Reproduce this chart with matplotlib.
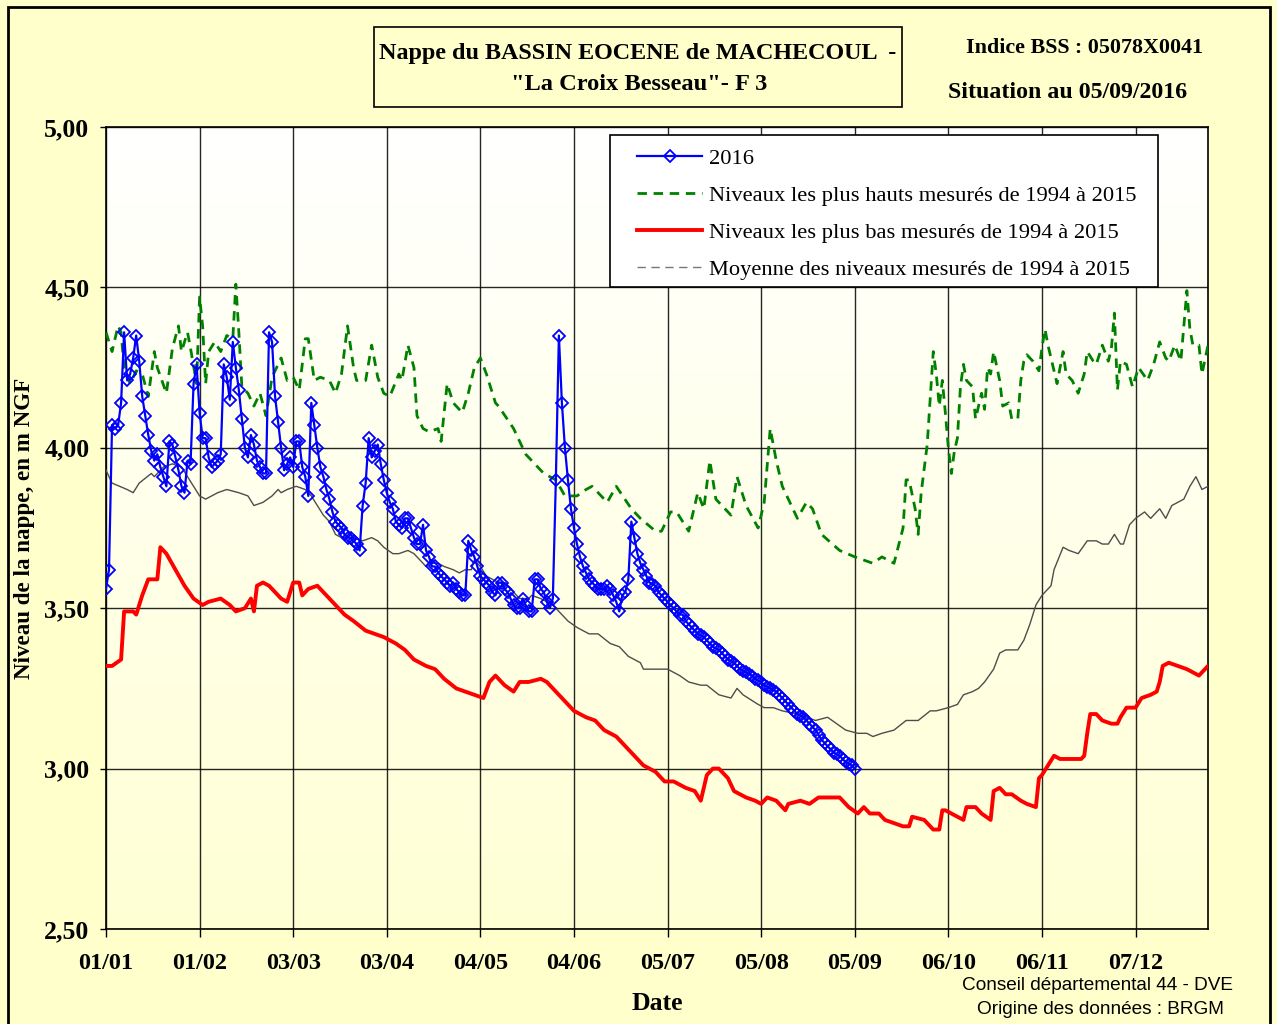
import matplotlib
matplotlib.use("Agg")
import matplotlib.pyplot as plt
import numpy as np
from matplotlib.lines import Line2D
from matplotlib.patches import Rectangle
from matplotlib.colors import LinearSegmentedColormap

# ---------------- data ----------------
tick_days = [0, 31, 62, 93, 124, 155, 186, 217, 248, 279, 310, 341]
tick_labels = ["01/01", "01/02", "03/03", "03/04", "04/05", "04/06",
               "05/07", "05/08", "05/09", "06/10", "06/11", "07/12"]
y_ticks = [2.5, 3.0, 3.5, 4.0, 4.5, 5.0]
y_tick_labels = ["2,50", "3,00", "3,50", "4,00", "4,50", "5,00"]

# 2016 daily levels (from 01/01, one value per day)
levels_2016 = [
    3.56, 3.62, 4.07, 4.06, 4.07, 4.14, 4.36, 4.21, 4.23, 4.28,
    4.35, 4.27, 4.16, 4.10, 4.04, 3.99, 3.96, 3.98, 3.94, 3.91,
    3.88, 4.02, 4.01, 3.97, 3.93, 3.88, 3.86, 3.96, 3.95, 4.20,
    4.26, 4.11, 4.03, 4.03, 3.97, 3.94, 3.95, 3.96, 3.98, 4.26,
    4.22, 4.15, 4.33, 4.25, 4.18, 4.09, 4.00, 3.97, 4.04, 4.01,
    3.96, 3.94, 3.92, 3.92, 4.36, 4.33, 4.16, 4.08, 4.00, 3.93,
    3.95, 3.97, 3.94, 4.02, 4.02, 3.94, 3.91, 3.85, 4.14, 4.07,
    4.00, 3.94, 3.91, 3.87, 3.84, 3.80, 3.77, 3.76, 3.75, 3.73,
    3.72, 3.72, 3.71, 3.70, 3.68, 3.82, 3.89, 4.03, 3.97, 3.99,
    4.01, 3.95, 3.90, 3.86, 3.83, 3.81, 3.77, 3.76, 3.75, 3.78,
    3.78, 3.75, 3.72, 3.70, 3.70, 3.76, 3.68, 3.66, 3.63, 3.63,
    3.61, 3.60, 3.59, 3.58, 3.57, 3.58, 3.56, 3.55, 3.54, 3.54,
    3.71, 3.68, 3.66, 3.63, 3.60, 3.59, 3.58, 3.57, 3.55, 3.54,
    3.58, 3.58, 3.56, 3.55, 3.53, 3.51, 3.50, 3.50, 3.53, 3.51,
    3.49, 3.49, 3.59, 3.59, 3.56, 3.55, 3.52, 3.50, 3.53, 3.90,
    4.35, 4.14, 4.00, 3.90, 3.81, 3.75, 3.70, 3.66, 3.63, 3.61,
    3.59, 3.58, 3.57, 3.56, 3.56, 3.56, 3.57, 3.56, 3.54, 3.52,
    3.49, 3.54, 3.55, 3.59, 3.77, 3.72, 3.67, 3.64, 3.62, 3.60,
    3.58, 3.575, 3.57, 3.55, 3.54, 3.53, 3.52, 3.51, 3.50, 3.49,
    3.48, 3.48, 3.46, 3.45, 3.44, 3.43, 3.42, 3.415, 3.41, 3.40,
    3.39, 3.38, 3.375, 3.37, 3.36, 3.35, 3.34, 3.335, 3.33, 3.32,
    3.31, 3.305, 3.30, 3.295, 3.29, 3.28, 3.275, 3.27, 3.26, 3.255,
    3.25, 3.245, 3.24, 3.23, 3.22, 3.21, 3.20, 3.19, 3.18, 3.17,
    3.165, 3.16, 3.15, 3.14, 3.13, 3.12, 3.105, 3.09, 3.08, 3.07,
    3.06, 3.05, 3.045, 3.04, 3.03, 3.02, 3.015, 3.01, 3.00,
]

# highest levels 1994-2015
max_days = [0, 2, 4, 5, 6, 8, 10, 12, 14, 16, 17, 20, 22, 24, 25, 27, 28, 30, 31, 32,
            33, 34, 36, 38, 40, 42, 43, 44, 45, 47, 49, 51, 53, 55, 58, 60, 62, 64, 66, 67,
            69, 71, 74, 76, 78, 80, 82, 83, 86, 88, 90, 92, 94, 97, 98, 100, 102, 103, 105, 107,
            110, 111, 113, 115, 118, 120, 122, 124, 126, 129, 130, 135, 139, 145, 149, 152, 156, 159, 161, 166,
            169, 174, 177, 182, 184, 187, 189, 193, 196, 198, 200, 202, 207, 209, 212, 216, 218, 220, 222, 224,
            227, 229, 232, 234, 237, 243, 248, 254, 257, 261, 264, 265, 266, 268, 269, 270, 272, 274, 275, 276,
            277, 278, 279, 280, 281, 282, 283, 284, 285, 287, 288, 290, 291, 292, 293, 294, 296, 297, 299, 300,
            302, 303, 304, 305, 307, 309, 310, 311, 312, 314, 315, 317, 318, 320, 322, 324, 325, 327, 328, 330,
            332, 333, 334, 335, 336, 338, 340, 342, 345, 347, 349, 351, 352, 354, 356, 358, 359, 360, 362, 363, 365]
max_vals = [4.36, 4.30, 4.38, 4.36, 4.25, 4.20, 4.24, 4.23, 4.16, 4.30, 4.25, 4.17, 4.31, 4.38, 4.30, 4.36, 4.31, 4.20, 4.47, 4.38,
            4.20, 4.30, 4.33, 4.30, 4.35, 4.34, 4.51, 4.36, 4.19, 4.17, 4.13, 4.17, 4.10, 4.22, 4.28, 4.21, 4.22, 4.18, 4.34, 4.34,
            4.21, 4.22, 4.21, 4.17, 4.23, 4.38, 4.25, 4.21, 4.21, 4.32, 4.22, 4.17, 4.16, 4.23, 4.21, 4.32, 4.25, 4.10, 4.06, 4.05,
            4.06, 4.02, 4.20, 4.14, 4.11, 4.17, 4.25, 4.28, 4.23, 4.14, 4.13, 4.06, 3.98, 3.92, 3.90, 3.85, 3.85, 3.87, 3.88, 3.83,
            3.88, 3.81, 3.78, 3.74, 3.74, 3.80, 3.80, 3.74, 3.86, 3.81, 3.96, 3.84, 3.79, 3.91, 3.82, 3.75, 3.83, 4.06, 3.96, 3.88,
            3.82, 3.78, 3.83, 3.81, 3.73, 3.68, 3.66, 3.64, 3.66, 3.64, 3.75, 3.90, 3.90, 3.81, 3.73, 3.86, 4.01, 4.30, 4.23, 4.13,
            4.21, 4.11, 4.00, 3.92, 3.99, 4.03, 4.19, 4.26, 4.21, 4.19, 4.09, 4.17, 4.12, 4.25, 4.23, 4.30, 4.21, 4.13, 4.14, 4.09,
            4.09, 4.21, 4.27, 4.29, 4.27, 4.24, 4.31, 4.37, 4.32, 4.24, 4.20, 4.30, 4.23, 4.21, 4.17, 4.23, 4.30, 4.27, 4.26, 4.32,
            4.27, 4.31, 4.42, 4.18, 4.27, 4.26, 4.19, 4.25, 4.21, 4.26, 4.33, 4.28, 4.27, 4.32, 4.27, 4.49, 4.37, 4.32, 4.32, 4.23, 4.32]

# lowest levels 1994-2015
min_days = [0, 2, 5, 6, 9, 10, 12, 14, 17, 18, 20, 23, 26, 29, 32, 34, 38, 41, 43, 46,
            48, 49, 50, 52, 54, 56, 58, 60, 62, 64, 65, 67, 70, 73, 76, 79, 82, 86, 89, 92,
            96, 99, 102, 106, 109, 112, 116, 119, 122, 125, 127, 129, 132, 135, 137, 140, 144, 146, 149, 152,
            155, 159, 162, 165, 169, 172, 175, 178, 182, 185, 188, 192, 195, 197, 199, 201, 203, 206, 208, 212,
            215, 217, 219, 222, 225, 226, 230, 233, 236, 240, 243, 246, 249, 251, 253, 256, 258, 261, 264, 266,
            267, 271, 274, 276, 277, 278, 282, 284, 285, 288, 290, 293, 294, 296, 298, 300, 303, 305, 308, 309,
            310, 312, 314, 316, 320, 323, 324, 325, 326, 328, 330, 333, 335, 336, 338, 341, 343, 346, 348, 349,
            350, 352, 355, 358, 360, 362, 364, 365]
min_vals = [3.32, 3.32, 3.34, 3.49, 3.49, 3.48, 3.54, 3.59, 3.59, 3.69, 3.67, 3.62, 3.57, 3.53, 3.51, 3.52, 3.53, 3.51, 3.49, 3.50,
            3.53, 3.49, 3.57, 3.58, 3.57, 3.55, 3.53, 3.52, 3.58, 3.58, 3.54, 3.56, 3.57, 3.54, 3.51, 3.48, 3.46, 3.43, 3.42, 3.41,
            3.39, 3.37, 3.34, 3.32, 3.31, 3.28, 3.25, 3.24, 3.23, 3.22, 3.27, 3.29, 3.26, 3.24, 3.27, 3.27, 3.28, 3.27, 3.24, 3.21,
            3.18, 3.16, 3.15, 3.12, 3.10, 3.07, 3.04, 3.01, 2.99, 2.96, 2.96, 2.94, 2.93, 2.90, 2.98, 3.00, 3.00, 2.97, 2.93, 2.91,
            2.90, 2.89, 2.91, 2.90, 2.87, 2.89, 2.90, 2.89, 2.91, 2.91, 2.91, 2.88, 2.86, 2.88, 2.86, 2.86, 2.84, 2.83, 2.82, 2.82,
            2.85, 2.84, 2.81, 2.81, 2.87, 2.87, 2.85, 2.84, 2.88, 2.88, 2.86, 2.84, 2.93, 2.94, 2.92, 2.92, 2.90, 2.89, 2.88, 2.97,
            2.98, 3.01, 3.04, 3.03, 3.03, 3.03, 3.04, 3.11, 3.17, 3.17, 3.15, 3.14, 3.14, 3.16, 3.19, 3.19, 3.22, 3.23, 3.24, 3.27,
            3.32, 3.33, 3.32, 3.31, 3.30, 3.29, 3.31, 3.32]

# mean levels 1994-2015
mean_days = [0, 2, 7, 9, 11, 15, 16, 19, 22, 25, 27, 29, 31, 33, 37, 40, 44, 47, 49, 52,
             55, 57, 58, 60, 63, 66, 68, 70, 72, 74, 76, 78, 82, 85, 88, 90, 92, 95, 97, 100,
             102, 103, 106, 107, 110, 112, 115, 117, 119, 121, 122, 124, 126, 128, 130, 133, 135, 137, 140, 141,
             144, 146, 148, 150, 153, 156, 160, 163, 167, 170, 173, 177, 178, 181, 186, 190, 193, 197, 199, 203,
             207, 209, 211, 216, 218, 221, 224, 229, 232, 235, 239, 242, 245, 249, 252, 254, 257, 261, 265, 269,
             273, 275, 279, 282, 284, 287, 289, 291, 294, 296, 298, 302, 304, 306, 308, 310, 313, 314, 317, 319,
             322, 325, 328, 330, 332, 334, 336, 337, 339, 341, 344, 346, 349, 351, 353, 357, 359, 361, 363, 365]
mean_vals = [3.93, 3.89, 3.87, 3.86, 3.89, 3.92, 3.91, 3.94, 3.95, 3.94, 3.91, 3.88, 3.85, 3.84, 3.86, 3.87, 3.86, 3.85, 3.82, 3.83,
             3.85, 3.87, 3.86, 3.87, 3.88, 3.87, 3.85, 3.82, 3.79, 3.77, 3.73, 3.72, 3.72, 3.71, 3.72, 3.71, 3.69, 3.67, 3.67, 3.68,
             3.67, 3.66, 3.63, 3.64, 3.64, 3.63, 3.62, 3.61, 3.62, 3.62, 3.65, 3.63, 3.60, 3.59, 3.58, 3.57, 3.55, 3.53, 3.53, 3.54,
             3.53, 3.52, 3.51, 3.49, 3.46, 3.44, 3.42, 3.42, 3.39, 3.38, 3.35, 3.33, 3.31, 3.31, 3.31, 3.29, 3.27, 3.26, 3.26, 3.23,
             3.22, 3.25, 3.23, 3.20, 3.19, 3.19, 3.18, 3.17, 3.16, 3.15, 3.16, 3.14, 3.12, 3.11, 3.11, 3.10, 3.11, 3.12, 3.15, 3.15,
             3.18, 3.18, 3.19, 3.20, 3.23, 3.24, 3.25, 3.27, 3.31, 3.36, 3.37, 3.37, 3.40, 3.45, 3.51, 3.54, 3.57, 3.62, 3.69, 3.68,
             3.67, 3.71, 3.71, 3.70, 3.70, 3.73, 3.70, 3.70, 3.76, 3.78, 3.80, 3.78, 3.81, 3.78, 3.82, 3.84, 3.88, 3.91, 3.87, 3.88]

legend_labels = ["2016",
                 "Niveaux les plus hauts mesurés de 1994 à 2015",
                 "Niveaux les plus bas mesurés de 1994 à 2015",
                 "Moyenne des niveaux mesurés de 1994 à 2015"]

# ---------------- figure ----------------
W, H = 1277, 1024
BG = "#FFFFCC"
SERIF = ["Liberation Serif", "DejaVu Serif"]
SANS = ["Liberation Sans", "DejaVu Sans"]
AX_L, AX_R, AX_T, AX_B = 106, 1208, 127, 929


def fx(px):
    return px / W


def fy(py):
    return 1 - py / H


def ax_x(px):
    return (px - AX_L) / (AX_R - AX_L)


def ax_y(py):
    return (AX_B - py) / (AX_B - AX_T)


fig = plt.figure(figsize=(W / 100, H / 100), dpi=100)
fig.patch.set_facecolor(BG)

# outer frame
fig.add_artist(Rectangle((fx(8), fy(1030)), (1270 - 8) / W, (1030 - 7) / H,
                         transform=fig.transFigure, fill=False,
                         edgecolor="black", lw=2))

ax = fig.add_axes([fx(AX_L), fy(AX_B), (AX_R - AX_L) / W, (AX_B - AX_T) / H])
ax.set_xlim(0, 365)
ax.set_ylim(2.5, 5.0)

grad = np.linspace(0, 1, 256).reshape(-1, 1)
cmap = LinearSegmentedColormap.from_list("bg", ["#FFFFD4", "#FFFFFF"])
ax.imshow(grad, extent=[0, 365, 2.5, 5.0], origin="lower", cmap=cmap,
          aspect="auto", zorder=0)

ax.set_xticks(tick_days)
ax.set_xticklabels(tick_labels, fontfamily=SERIF, fontweight="bold", fontsize=17.5)
ax.set_yticks(y_ticks)
ax.set_yticklabels(y_tick_labels, fontfamily=SERIF, fontweight="bold", fontsize=18.5)
ax.tick_params(axis="x", direction="out", length=6, width=1, pad=11)
ax.tick_params(axis="y", direction="out", length=4, width=1, pad=8)
ax.grid(True, color="black", lw=1.0, alpha=0.85)
for s in ax.spines.values():
    s.set_linewidth(1.2)

days_2016 = np.arange(len(levels_2016))
ax.plot(mean_days, mean_vals, color="#4d4d4d", lw=1.0, zorder=3)
ax.plot(min_days, min_vals, color="#FF0000", lw=2.8, zorder=3)
ax.plot(max_days, max_vals, color="#008000", lw=2.0, dashes=(3.4, 2.4), zorder=3)
ax.plot(days_2016, levels_2016, color="#0000FF", lw=1.6, marker="D",
        markersize=6, markerfacecolor="none", markeredgecolor="#0000FF",
        markeredgewidth=1.3, zorder=4)

# legend: frame drawn separately, entries placed inside
ax.add_patch(Rectangle((ax_x(610), ax_y(287)), ax_x(1158) - ax_x(610),
                       ax_y(135) - ax_y(287), transform=ax.transAxes,
                       facecolor="white", edgecolor="black", lw=1.2, zorder=9))
handles = [
    Line2D([], [], color="#0000FF", lw=1.6, marker="D", markersize=6,
           markerfacecolor="none", markeredgewidth=1.3, markevery=[1]),
    Line2D([], [], color="#008000", lw=2.0, dashes=(3.4, 2.4)),
    Line2D([], [], color="#FF0000", lw=2.8),
    Line2D([], [], color="#777777", lw=1.0, dashes=(6, 4)),
]
leg = ax.legend(handles, legend_labels, loc="upper left",
                bbox_to_anchor=(ax_x(637), ax_y(148)),
                prop={"family": SERIF, "size": 16.2}, frameon=False,
                handlelength=2.9, handletextpad=0.31, labelspacing=0.73,
                borderpad=0, borderaxespad=0)
leg.set_zorder(10)

# axis labels
fig.text(fx(25), fy(528), "Niveau de la nappe, en m NGF", rotation=90,
         ha="center", va="center", fontfamily=SERIF, fontweight="bold", fontsize=16.6)
fig.text(fx(657), fy(1003), "Date", ha="center", va="center",
         fontfamily=SERIF, fontweight="bold", fontsize=18.5)

# title box
fig.add_artist(Rectangle((fx(374), fy(107)), (902 - 374) / W, (107 - 27) / H,
                         transform=fig.transFigure, facecolor=BG,
                         edgecolor="black", lw=1.2))
fig.text(fx(638), fy(53), "Nappe du BASSIN EOCENE de MACHECOUL  -", ha="center",
         va="center", fontfamily=SERIF, fontweight="bold", fontsize=17.4)
fig.text(fx(639), fy(85), "\"La Croix Besseau\"- F 3", ha="center",
         va="center", fontfamily=SERIF, fontweight="bold", fontsize=17.6)

fig.text(fx(1085), fy(48), "Indice BSS : 05078X0041", ha="center", va="center",
         fontfamily=SERIF, fontweight="bold", fontsize=15.8)
fig.text(fx(1068), fy(93), "Situation au 05/09/2016", ha="center", va="center",
         fontfamily=SERIF, fontweight="bold", fontsize=17.2)

fig.text(fx(1098), fy(985), "Conseil départemental 44 - DVE", ha="center",
         va="center", fontfamily=SANS, fontsize=13.7)
fig.text(fx(1100), fy(1010), "Origine des données : BRGM", ha="center",
         va="center", fontfamily=SANS, fontsize=13.7)

fig.savefig("out.png", dpi=100, facecolor=BG)
